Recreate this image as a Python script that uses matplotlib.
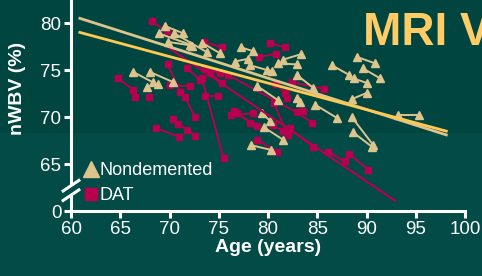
import matplotlib
matplotlib.use('Agg')
import matplotlib.pyplot as plt
from matplotlib.lines import Line2D
from matplotlib.patches import Rectangle

plt.rcParams['font.family'] = ['Liberation Sans', 'DejaVu Sans']

# longitudinal pairs: list of (ages, nwbv) per subject
nondemented_ages = [
    [69.5, 71.4], [68.9, 72.1], [69.8, 72.3], [70.5, 73.8], [73.3, 75.1],
    [77.3, 78.5], [76.6, 78.0], [78.2, 79.9, 80.4], [81.5, 83.4], [81.0, 82.9],
    [82.9, 84.6], [84.8, 87.0], [89.0, 90.9], [86.5, 88.2], [89.6, 91.4],
    [88.7, 90.1], [90.1, 88.5], [93.2, 95.3], [88.5, 90.7], [88.6, 90.6],
    [79.4, 80.2], [79.6, 81.5], [78.3, 80.3], [66.3, 68.3], [68.0, 70.4],
    [67.7, 68.8], [78.9, 81.0], [82.9, 83.2],
]
nondemented_vals = [
    [79.7, 78.9], [78.9, 77.7], [78.0, 77.6], [78.9, 76.9], [77.9, 76.8],
    [77.4, 77.0], [75.9, 76.2], [75.5, 75.0, 74.9], [76.1, 76.7], [75.7, 75.6],
    [74.5, 73.1], [71.3, 69.9], [76.4, 75.7], [75.5, 74.5], [75.2, 74.1],
    [74.1, 73.6], [72.6, 71.9], [70.2, 70.2], [70.0, 67.0], [68.4, 66.8],
    [70.4, 69.6], [68.9, 67.6], [67.0, 66.5], [74.8, 73.7], [74.8, 73.7],
    [73.2, 73.5], [73.3, 71.8], [72.0, 71.6],
]

dat_ages = [
    [68.2, 69.7], [73.5, 75.3], [79.1, 80.8], [80.2, 81.7],
    [69.8, 71.1, 71.6, 72.6], [64.8, 66.3, 66.5], [67.9], [70.1, 72.1],
    [71.8, 73.1], [73.6, 75.9, 82.9, 84.5], [74.1, 75.3], [75.1],
    [73.3, 75.5], [73.6, 74.9], [76.5, 78.9], [76.2, 78.5], [76.9, 78.2],
    [80.6, 82.0], [80.5, 81.5], [78.9, 80.9], [80.8, 81.7, 81.9],
    [82.4, 85.7], [83.6], [82.2, 84.6], [86.1, 87.8], [88.2, 90.2],
    [68.6, 71.0], [70.4, 70.9, 71.8, 72.6],
]
dat_vals = [
    [80.2, 79.1], [78.0, 77.4], [76.4, 76.7], [77.9, 77.4],
    [75.6, 72.7, 72.1, 70.0], [74.1, 72.9, 72.1], [72.1], [73.4, 73.3],
    [75.2, 73.9], [75.1, 74.5, 70.5, 69.4], [74.7, 73.6], [74.7],
    [74.1, 65.6], [72.2, 72.2], [70.6, 69.0], [70.2, 70.4], [70.4, 69.4],
    [71.5, 68.1], [69.1, 68.5], [67.6, 66.3], [73.5, 72.6, 72.0],
    [73.7, 73.0], [70.6], [68.8, 66.8], [66.3, 65.3], [66.1, 64.4],
    [68.8, 67.9], [69.8, 69.3, 68.6, 68.0],
]

# fitted lines (end points)
fit_tan_x = [60.9, 98.1]
fit_tan_y = [80.5, 68.1]
fit_yellow_x = [60.9, 98.1]
fit_yellow_y = [79.0, 68.5]
fit_dat_x = [70.0, 92.9]
fit_dat_y = [77.3, 61.1]

yticks = [60, 65, 70, 75, 80]
ytick_labels = ['0', '65', '70', '75', '80']
xticks = [60, 65, 70, 75, 80, 85, 90, 95, 100]

tan = '#dcc48c'
yellow = '#ffc850'
crimson = '#b8004f'
white = 'white'

fig = plt.figure(figsize=(4.82, 2.76), dpi=100, facecolor='#00453f')
fig.patches.append(Rectangle((0, 0), 1, 143 / 276, transform=fig.transFigure,
                             color='#034b47', zorder=-10))
ax = fig.add_axes([71 / 482, 65 / 276, 394 / 482, 211 / 276])
ax.set_facecolor('none')

for a, v in zip(dat_ages, dat_vals):
    ax.plot(a, v, '-s', color=crimson, lw=1.4, ms=4.6, mec=crimson)
for a, v in zip(nondemented_ages, nondemented_vals):
    ax.plot(a, v, '-^', color=tan, lw=1.4, ms=6, mec=tan)

ax.plot(fit_dat_x, fit_dat_y, color=crimson, lw=1.5)
ax.plot(fit_tan_x, fit_tan_y, color=tan, lw=2)
ax.plot(fit_yellow_x, fit_yellow_y, color=yellow, lw=2)

ax.set_xlim(60, 100)
ax.set_ylim(60, 82.45)
ax.set_xticks(xticks)
ax.set_yticks(yticks)
ax.set_yticklabels(ytick_labels)

for s in ['top', 'right', 'left']:
    ax.spines[s].set_visible(False)
ax.spines['bottom'].set_color(white)
ax.spines['bottom'].set_linewidth(2.2)
ax.tick_params(colors=white, width=2.2, length=5, labelsize=13.5, pad=2)

# broken y axis drawn by hand
kw = dict(transform=ax.transAxes, color=white, lw=2.2, clip_on=False)
ax.plot([0, 0], [0.13, 1], **kw)
ax.plot([0, 0], [-0.005, 0.07], **kw)
ax.plot([-0.02, 0.02], [0.095, 0.145], **kw)
ax.plot([-0.02, 0.02], [0.05, 0.10], **kw)

ax.set_xlabel('Age (years)', color=white, fontsize=14, fontweight='bold', labelpad=1)
ax.set_ylabel('nWBV (%)', color=white, fontsize=14, fontweight='bold')
ax.yaxis.set_label_coords(-0.115, 0.58)

handles = [Line2D([], [], marker='^', ls='none', color=tan, ms=11),
           Line2D([], [], marker='s', ls='none', color=crimson, ms=9)]
ax.legend(handles, ['Nondemented', 'DAT'], loc='lower left',
          bbox_to_anchor=(0.015, -0.01), frameon=False, fontsize=13,
          labelcolor=white, handlelength=0.6, handletextpad=0.15,
          labelspacing=0.45, borderpad=0)

fig.text(363 / 482, 1 - 45 / 276, 'MRI V', color='#ffcc66', fontsize=33,
         fontweight='bold', va='baseline', ha='left')

fig.savefig('out.png', dpi=100, facecolor=fig.get_facecolor())
